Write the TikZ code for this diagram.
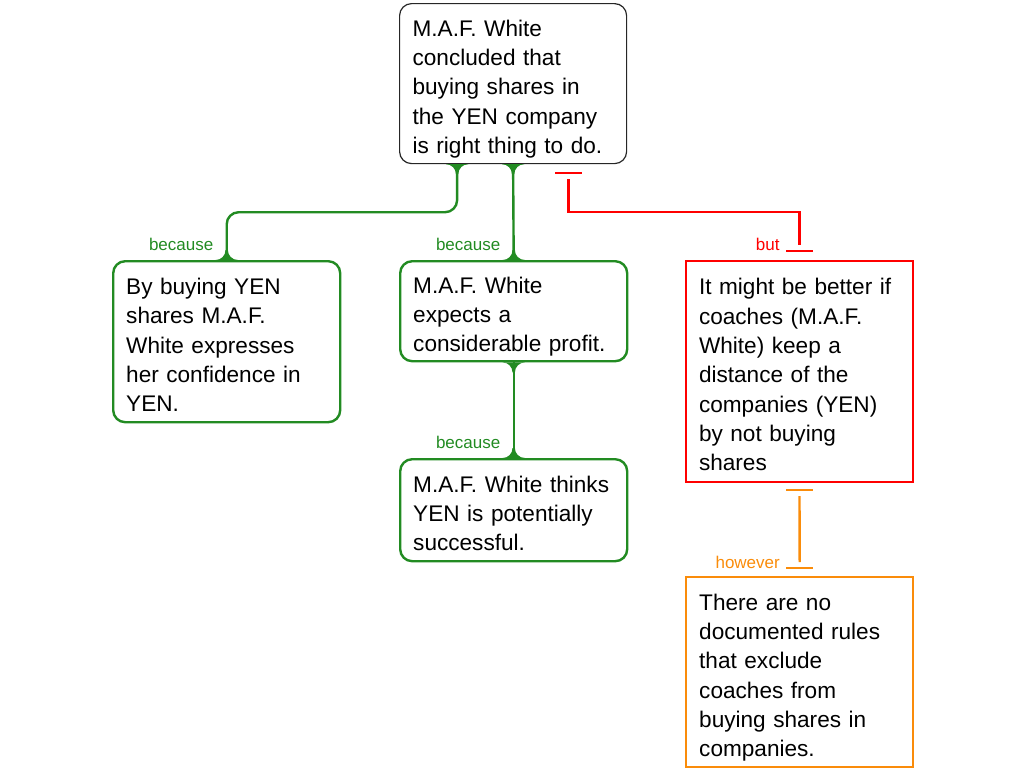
\documentclass[tikz,border=0pt]{standalone}
\usepackage{fontspec}
\setmainfont{Liberation Sans}
\usetikzlibrary{calc}
\definecolor{becausegreen}{RGB}{34,139,34}
\definecolor{butred}{RGB}{255,0,0}
\definecolor{howeverorange}{RGB}{250,140,10}
\hyphenpenalty=10000
\tikzset{
  claim/.style={anchor=north west, align=left, text width=100.5pt, inner xsep=6.5pt,
    inner ysep=0pt, font=\fontsize{11.3}{14.65}\selectfont,
    execute at begin node={\rule{0pt}{15.3pt}},
    execute at end node={\rule[-4pt]{0pt}{4pt}}},
  reason/.style={claim, draw=becausegreen, line width=1.2pt, rounded corners=6pt},
  objection/.style={claim, draw=butred, line width=1pt},
  rebuttal/.style={claim, draw=howeverorange, line width=1.2pt},
  because/.style={draw=becausegreen, line width=1.2pt},
  but/.style={draw=butred, line width=1.2pt},
  however/.style={draw=howeverorange, line width=1.2pt},
  lbl/.style={font=\fontsize{8.5}{10}\selectfont, inner sep=0pt, anchor=base east}
}
% little flared foot where a green line meets a box
\newcommand\flare[2]{%
  \begin{scope}[shift={(#1)}, yscale=#2]
    \fill[becausegreen] (-5.6pt,0) .. controls (-2.8pt,0) and (-0.6pt,-2.2pt) .. (-0.6pt,-5pt)
      -- (0.6pt,-5pt) .. controls (0.6pt,-2.2pt) and (2.8pt,0) .. (5.6pt,0) -- cycle;
  \end{scope}}

\begin{document}
\begin{tikzpicture}[x=0.5pt, y=-0.5pt]
\useasboundingbox (0,0) rectangle (1024,768);

\node[claim, draw=black!85, line width=0.6pt, rounded corners=6pt, minimum height=80pt] (conclusion) at (399,3)
  {M.A.F. White\\ concluded that\\ buying shares in\\ the YEN company\\ is right thing to do.};

\node[reason, minimum height=80.5pt] (reason1) at (112,260)
  {By buying YEN\\ shares M.A.F.\\ White expresses\\ her confidence in\\ YEN.};
\node[reason, minimum height=50pt] (reason2) at (399,260)
  {M.A.F. White\\ expects a\\ considerable profit.};
\node[reason, minimum height=51pt] (reason3) at (399,458)
  {M.A.F. White thinks\\ YEN is potentially\\ successful.};

\node[objection, minimum height=110.5pt] (object) at (685,260)
  {It might be better if\\ coaches (M.A.F.\\ White) keep a\\ distance of the\\ companies (YEN)\\ by not buying\\ shares};
\node[rebuttal, minimum height=95pt] (rebut) at (685,576)
  {There are no\\ documented rules\\ that exclude\\ coaches from\\ buying shares in\\ companies.};

% because
\draw[because, rounded corners=6pt] ([xshift=-28pt]conclusion.south) -- ++(0,-24pt) -| (reason1.north);
\draw[because] (conclusion.south) -- (reason2.north);
\draw[because] (reason2.south) -- (reason3.north);
\flare{[xshift=-28pt]conclusion.south}{1}
\flare{conclusion.south}{1}
\flare{reason1.north}{-1}
\flare{reason2.north}{-1}
\flare{reason2.south}{1}
\flare{reason3.north}{-1}
\node[lbl, text=becausegreen] (because1) at ([xshift=-6.5pt,yshift=5pt]reason1.north) {because};
\node[lbl, text=becausegreen] (because2) at ([xshift=-6.5pt,yshift=5pt]reason2.north) {because};
\node[lbl, text=becausegreen] (because3) at ([xshift=-6.5pt,yshift=5pt]reason3.north) {because};

% but
\coordinate (butstart) at ([xshift=27.75pt,yshift=-4.5pt]conclusion.south);
\coordinate (butend) at ([yshift=4.5pt]object.north);
\draw[but] ([xshift=-6.75pt]butstart) -- ([xshift=6.75pt]butstart);
\draw[but] ([xshift=-6.75pt]butend) -- ([xshift=6.75pt]butend);
\draw[but] ([yshift=-3pt]butstart) -- ++(0,-16.5pt) -| ([yshift=3pt]butend);
\node[lbl, text=butred] (butlbl) at ([xshift=-9.75pt,yshift=5pt]object.north) {but};

% however
\coordinate (howstart) at ([yshift=-3.5pt]object.south);
\coordinate (howend) at ([yshift=4pt]rebut.north);
\draw[however] ([xshift=-6.75pt]howstart) -- ([xshift=6.75pt]howstart);
\draw[however] ([xshift=-6.75pt]howend) -- ([xshift=6.75pt]howend);
\draw[however] ([yshift=-3pt]howstart) -- ([yshift=3pt]howend);
\node[lbl, text=howeverorange] (howlbl) at ([xshift=-9.75pt,yshift=4pt]rebut.north) {however};
\end{tikzpicture}
\end{document}
